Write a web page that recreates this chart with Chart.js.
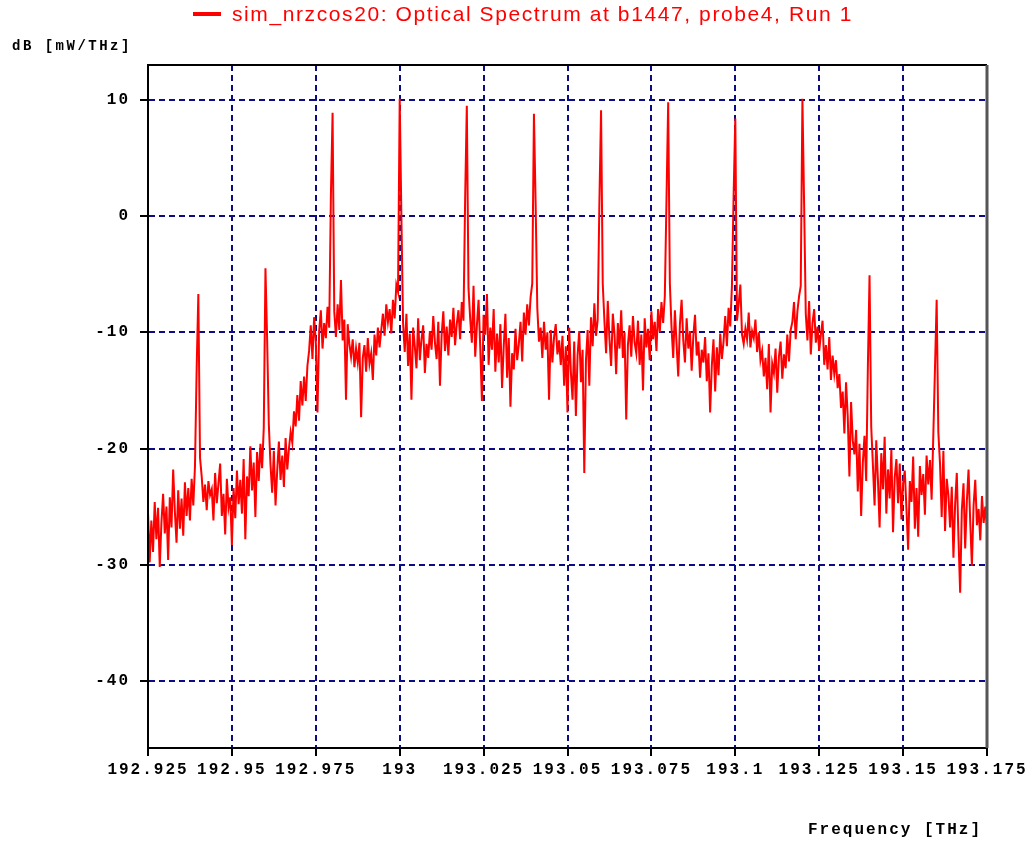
<!DOCTYPE html>
<html>
<head>
<meta charset="utf-8">
<script src="https://cdn.jsdelivr.net/npm/chart.js@4.4.1/dist/chart.umd.min.js"></script>
<style>
  html, body { margin: 0; padding: 0; background: #fff; }
  #wrap { width: 1031px; height: 841px; }
</style>
</head>
<body>
<div id="wrap"><canvas id="spectrum" width="1031" height="841"></canvas></div>
<script>
const seriesName = 'sim_nrzcos20: Optical Spectrum at b1447, probe4, Run 1'
const yTitle     = 'dB [mW/THz]'
const xTitle     = 'Frequency [THz]'

const FREQ_START = 192.925
const FREQ_END   = 193.175

const xTickValues = [192.925, 192.95, 192.975, 193, 193.025, 193.05, 193.075, 193.1, 193.125, 193.15, 193.175]
const xTickLabels = ['192.925', '192.95', '192.975', '193', '193.025', '193.05', '193.075', '193.1', '193.125', '193.15', '193.175']
const yTickValues = [-40, -30, -20, -10, 0, 10]

// power samples, dB [mW/THz], every 0.0005 THz
const powerDb = [
  -25.5, -29.8, -26.2, -28.9, -24.6, -27.8, -25.1, -30.2, -26.4, -23.9,
  -27.3, -25.0, -29.6, -24.2, -26.8, -21.8, -25.4, -28.1, -23.6, -26.9,
  -24.3, -27.5, -22.9, -25.8, -23.4, -26.2, -22.6, -24.9, -21.5, -13.1,
  -6.7,
  -20.8, -22.4, -24.6, -23.1, -25.3, -22.8, -24.0, -23.5, -26.2, -22.1,
  -24.7, -23.0, -21.3, -25.8, -23.9, -27.4, -22.6, -25.1, -24.2, -28.3,
  -23.4, -26.0, -21.9, -24.8, -22.7,
  -25.6, -20.9, -27.8, -22.4, -24.1, -19.8, -23.6, -21.2, -25.9, -20.3, -22.8, -19.6, -21.7, -18.2,
  -4.5, -10.6, -17.9,
  -21.4, -23.8, -20.2, -24.9, -21.9, -19.4, -22.7, -20.6, -23.3, -19.1, -21.8, -20.0, -18.6,
  -19.5, -16.8, -18.1, -15.4, -17.6, -14.2, -16.3, -13.8, -15.9, -12.9,
  -11.6, -9.4, -12.3, -8.7, -10.8, -16.9, -9.9, -8.1, -11.4, -9.2, -10.5, -7.8, -9.6, 1.8,
  8.9,
  -8.2, -10.4, -7.6, -9.8, -5.5, -10.7, -8.9, -15.8, -9.3, -11.0,
  -12.1, -10.6, -13.0, -11.4, -12.6, -10.9, -17.3, -12.2, -11.1, -13.4, -10.5, -12.7, -11.8, -14.1, -10.2, -12.0, -9.6, -11.3,
  -9.8, -8.4, -10.3, -7.6, -9.1, -8.0, -10.1, -7.2, -8.8, -5.9, -6.5,
  10.1, 0.0,
  -9.2, -11.7, -8.4, -12.9, -10.1, -15.8, -9.6, -11.2, -13.1, -8.8, -12.4, -10.6, -9.4, -13.5, -11.0, -12.2, -9.9,
  -11.5, -8.6, -10.9, -12.3, -9.1, -14.6, -10.2, -8.2, -11.6, -9.5, -12.0, -8.9, -10.4, -7.9, -11.1, -9.3, -8.1, -10.6, -7.4, -9.0,
  1.5, 9.5, -6.2,
  -8.8, -10.9, -6.0, -12.1, -9.4, -7.2, -11.3, -15.9, -8.5, -10.2, -6.7, -12.8, -9.6, -11.5, -8.0, -13.4, -10.1,
  -12.6, -9.3, -14.8, -11.2, -8.4, -13.9, -10.5, -16.4, -11.8, -13.2, -9.7, -12.4,
  -11.0, -9.1, -12.5, -8.3, -10.2, -7.6, -9.4, -7.0, -5.8,
  8.8, 1.1,
  -7.9, -10.8, -9.6, -12.2, -9.1, -11.5, -10.0, -15.8, -9.8, -12.6, -10.4, -9.3, -11.9, -10.7,
  -12.8, -10.3, -14.6, -11.2, -16.9, -9.6, -13.4, -15.8, -10.8, -17.2, -12.0, -9.9, -14.3, -11.5, -22.1,
  -12.4, -9.8, -14.6, -8.7, -11.2, -7.5, -10.3, -8.9,
  1.1, 9.1, -5.8,
  -9.0, -11.8, -7.3, -10.6, -12.9, -8.4, -10.1, -13.6, -9.2, -11.4, -8.1, -12.2, -10.0, -17.5, -11.1,
  -9.4, -12.1, -8.6, -10.9, -11.8, -9.0, -12.8, -10.2, -15.0, -8.8, -11.3, -9.7, -12.4, -8.2, -10.6, -9.1, -11.6, -8.0, -10.0, -7.4, -9.2, -6.9,
  1.5, 9.8, -5.8,
  -9.6, -12.2, -8.1, -11.0, -13.8, -9.3, -7.2, -10.7, -12.6, -8.8, -11.4, -9.9, -13.3, -10.3, -8.5, -12.0, -10.8, -13.9, -11.5,
  -12.6, -10.4, -14.2, -11.8, -16.9, -12.9, -10.6, -15.1, -11.3, -13.7, -10.1, -12.3,
  -10.8, -8.6, -11.2, -7.9, -9.5, -6.0,
  1.8, 8.4, -9.0,
  -7.6, -5.9, -10.2, -11.0, -9.7, -10.6, -8.3, -11.3, -9.9, -10.5, -8.9, -11.7, -10.0, -12.4,
  -11.6, -13.8, -12.2, -14.9, -11.0, -16.9, -12.7, -13.5, -11.4, -15.2, -12.1, -10.8, -14.0, -11.9, -13.1, -10.2, -12.5, -9.8,
  -9.1, -7.4, -10.6, -8.2, -6.9,
  -6.0, 10.1, 1.1,
  -8.4, -10.7, -7.3, -11.9, -9.2, -8.0, -10.9, -9.5, -11.6,
  -10.2, -9.0, -12.8, -11.1, -13.2, -10.4, -14.1, -12.0, -13.6, -12.4,
  -14.8, -13.6, -16.5, -15.1, -18.7, -14.3, -17.2, -22.4, -16.0, -19.3,
  -20.5, -18.4, -23.7, -19.6, -25.8, -21.2, -18.9, -22.8,
  -13.0, -5.1, -18.1,
  -21.4, -24.9, -19.3, -22.7, -26.8, -20.4, -23.5, -19.0, -25.6, -21.8, -24.3, -20.1, -27.2, -22.5, -20.9, -24.7, -21.3, -26.1, -23.0,
  -21.9, -25.2, -28.7, -22.8, -24.6, -20.7, -26.9, -23.4, -27.6, -21.5, -24.0, -22.2, -25.7, -20.6, -23.1, -21.0, -24.4, -18.9,
  -13.1, -7.2, -18.6,
  -21.3, -25.9, -20.2, -27.1, -22.6, -24.0, -26.8, -23.3, -29.4, -24.8, -22.1, -27.7, -32.4, -25.3, -23.0,
  -28.6, -24.5, -21.8, -26.3, -30.1, -24.9, -22.7, -26.6, -25.2, -27.9, -24.1, -26.4, -25.0, -26.8,
]

const freqStep = (FREQ_END - FREQ_START) / (powerDb.length - 1)
const points   = powerDb.map((p, i) => ({ x: FREQ_START + i * freqStep, y: p }))

const monoFont  = { family: '"Liberation Mono", "DejaVu Sans Mono", monospace', size: 16, weight: 'bold' }
const gridStyle = { color: '#0b0b85', lineWidth: 2, tickColor: '#000', tickLength: 8, tickWidth: 2 }
const axisLine  = { display: true, color: '#000', width: 2, dash: [6, 4] }

// the old plotter font is wide, so space the letters out a bit
const letterSpace = {
  id: 'letterSpace',
  beforeDraw(chart) { chart.ctx.letterSpacing = '2px' },
}

const frameAndText = {
  id: 'frameAndText',
  afterDraw(chart) {
    const { ctx, chartArea: a } = chart
    ctx.save()
    ctx.setLineDash([])
    ctx.strokeStyle = '#000'
    ctx.lineWidth = 2
    ctx.beginPath()
    ctx.moveTo(a.left, a.bottom); ctx.lineTo(a.left, a.top); ctx.lineTo(a.right, a.top)
    ctx.stroke()
    ctx.beginPath(); ctx.moveTo(a.left, a.bottom); ctx.lineTo(a.right, a.bottom); ctx.stroke()
    ctx.strokeStyle = '#555'
    ctx.lineWidth = 3
    ctx.beginPath(); ctx.moveTo(a.right, a.top); ctx.lineTo(a.right, a.bottom); ctx.stroke()

    // legend line + series name
    ctx.strokeStyle = '#ff0000'
    ctx.lineWidth = 4
    ctx.beginPath(); ctx.moveTo(193, 14); ctx.lineTo(221, 14); ctx.stroke()
    ctx.fillStyle = '#ff0000'
    ctx.letterSpacing = '1.6px'
    ctx.font = '21px "Liberation Sans", Arial, sans-serif'
    ctx.textBaseline = 'middle'
    ctx.textAlign = 'left'
    ctx.fillText(seriesName, 232, 15)

    // axis titles
    ctx.fillStyle = '#000'
    ctx.letterSpacing = '2.5px'
    ctx.font = 'bold 14px "Liberation Mono", monospace'
    ctx.fillText(yTitle, 12, 46)
    ctx.letterSpacing = '2px'
    ctx.font = 'bold 16px "Liberation Mono", monospace'
    ctx.textAlign = 'left'
    ctx.fillText(xTitle, 808, 830)
    ctx.restore()
  }
}

new Chart(document.getElementById('spectrum'), {
  type: 'line',
  data: {
    datasets: [{
      label: seriesName,
      data: points,
      borderColor: '#ff0000',
      backgroundColor: '#ff0000',
      borderWidth: 2,
      pointRadius: 0,
      tension: 0,
      fill: false,
    }],
  },
  options: {
    responsive: false,
    animation: false,
    events: [],
    layout: { padding: { top: 65, right: 44, bottom: 53, left: 0 } },
    plugins: { legend: { display: false }, tooltip: { enabled: false } },
    scales: {
      x: {
        type: 'linear', min: FREQ_START, max: FREQ_END, z: 1,
        afterBuildTicks: s => { s.ticks = xTickValues.map(v => ({ value: v })) },
        afterFit: s => { s.height = 40 },
        grid: gridStyle,
        border: axisLine,
        ticks: { autoSkip: false, maxRotation: 0, padding: 4, color: '#000', font: monoFont, callback: (v, i) => xTickLabels[i] },
      },
      y: {
        type: 'linear', min: -45.77, max: 13.0, z: 1,
        afterBuildTicks: s => { s.ticks = yTickValues.map(v => ({ value: v })) },
        afterFit: s => { s.width = 148 },
        grid: gridStyle,
        border: axisLine,
        ticks: { padding: 10, color: '#000', font: monoFont },
      },
    },
  },
  plugins: [letterSpace, frameAndText],
})
</script>
</body>
</html>
